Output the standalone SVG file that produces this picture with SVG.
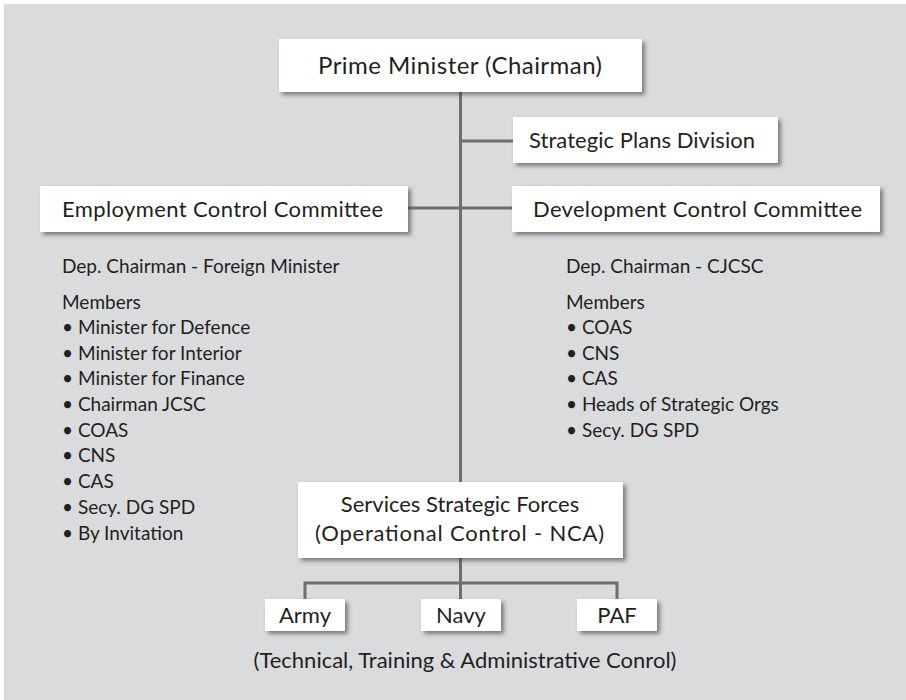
<svg xmlns="http://www.w3.org/2000/svg" width="906" height="700" viewBox="0 0 906 700">
  <defs>
    <filter id="shadow" x="-10%" y="-20%" width="130%" height="160%">
      <feDropShadow dx="3" dy="3" stdDeviation="2" flood-color="#3a3a3a" flood-opacity="0.6"/>
    </filter>
    <style>
      .box { fill: #ffffff; filter: url(#shadow); }
      .t { font-family: Lato, "Open Sans", "Liberation Sans", sans-serif; fill: #231f20; }
      .title { font-size: 22px; text-anchor: middle; }
      .pm { font-size: 24px; text-anchor: middle; }
      .list { font-size: 19px; }
      .conn { stroke: #6d6e70; stroke-width: 3; fill: none; }
    </style>
  </defs>

  <rect x="4" y="4" width="902" height="696" fill="#dadbdd"/>

  <g id="connectors">
    <line class="conn" x1="460.5" y1="92" x2="460.5" y2="482"/>
    <line class="conn" x1="460.5" y1="141" x2="513" y2="141"/>
    <line class="conn" x1="408" y1="208" x2="512" y2="208"/>
    <line class="conn" x1="460.5" y1="558" x2="460.5" y2="599"/>
    <polyline class="conn" points="305,599 305,583 617,583 617,599"/>
  </g>

  <g id="prime-minister">
    <rect class="box" x="279" y="39" width="363" height="53"/>
    <text class="t pm" x="460" y="74" textLength="284">Prime Minister (Chairman)</text>
  </g>

  <g id="strategic-plans-division">
    <rect class="box" x="513" y="117" width="265" height="46"/>
    <text class="t title" x="642" y="148" textLength="226">Strategic Plans Division</text>
  </g>

  <g id="employment-control-committee">
    <rect class="box" x="40" y="186" width="368" height="46"/>
    <text class="t title" x="222.5" y="217" textLength="321">Employment Control Committee</text>
  </g>

  <g id="ecc-members">
    <text class="t list" x="62" y="273">Dep. Chairman - Foreign Minister</text>
    <text class="t list" x="62" y="309">Members</text>
    <text class="t list" x="62" y="334">• Minister for Defence</text>
    <text class="t list" x="62" y="360">• Minister for Interior</text>
    <text class="t list" x="62" y="385">• Minister for Finance</text>
    <text class="t list" x="62" y="411">• Chairman JCSC</text>
    <text class="t list" x="62" y="437">• COAS</text>
    <text class="t list" x="62" y="462">• CNS</text>
    <text class="t list" x="62" y="488">• CAS</text>
    <text class="t list" x="62" y="514">• Secy. DG SPD</text>
    <text class="t list" x="62" y="540">• By Invitation</text>
  </g>

  <g id="development-control-committee">
    <rect class="box" x="512" y="186" width="368" height="46"/>
    <text class="t title" x="697.5" y="217" textLength="329">Development Control Committee</text>
  </g>

  <g id="dcc-members">
    <text class="t list" x="566" y="273">Dep. Chairman - CJCSC</text>
    <text class="t list" x="566" y="309">Members</text>
    <text class="t list" x="566" y="334">• COAS</text>
    <text class="t list" x="566" y="360">• CNS</text>
    <text class="t list" x="566" y="385">• CAS</text>
    <text class="t list" x="566" y="411">• Heads of Strategic Orgs</text>
    <text class="t list" x="566" y="437">• Secy. DG SPD</text>
  </g>

  <g id="services-strategic-forces">
    <rect class="box" x="298" y="482" width="325" height="76"/>
    <text class="t title" x="460" y="512">Services Strategic Forces</text>
    <text class="t title" x="459.5" y="541" textLength="289">(Operational Control - NCA)</text>
  </g>

  <g id="army">
    <rect class="box" x="265" y="599" width="80" height="32"/>
    <text class="t title" x="305" y="623">Army</text>
  </g>

  <g id="navy">
    <rect class="box" x="421" y="599" width="80" height="32"/>
    <text class="t title" x="461" y="623">Navy</text>
  </g>

  <g id="paf">
    <rect class="box" x="577" y="599" width="80" height="32"/>
    <text class="t title" x="617" y="623">PAF</text>
  </g>

  <g id="control-note">
    <text class="t title" x="465" y="668">(Technical, Training &amp; Administrative Conrol)</text>
  </g>
</svg>
